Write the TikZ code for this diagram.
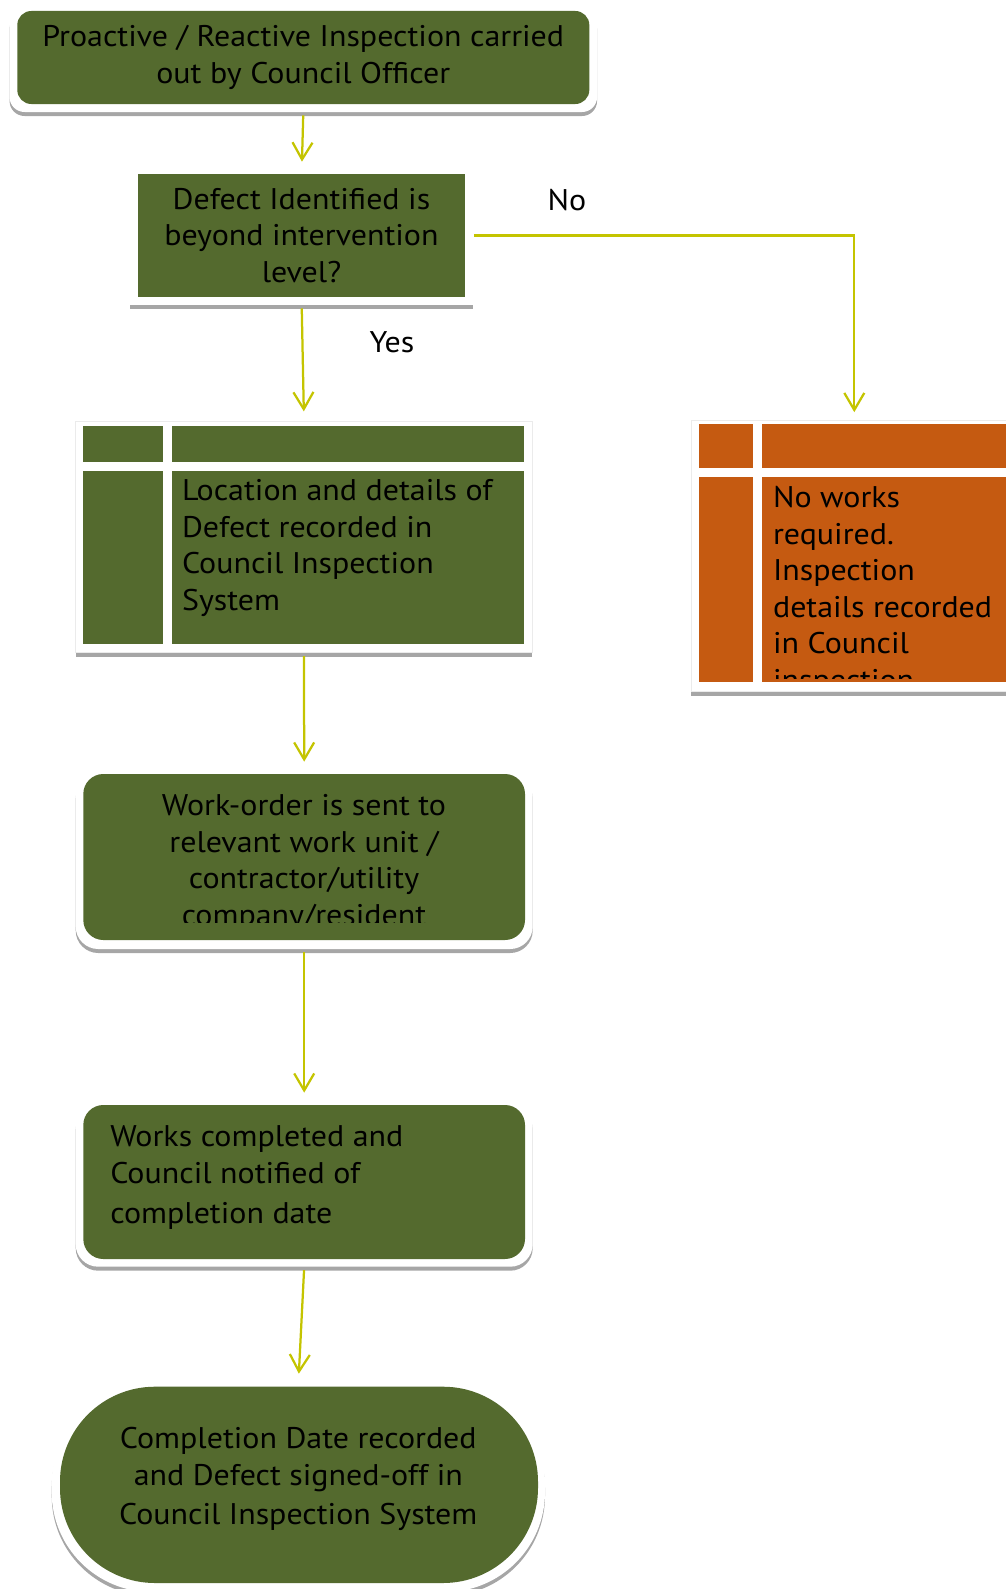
\documentclass[tikz,border=0pt]{standalone}
\usepackage{fontspec}
\setmainfont{PT Sans}[FakeStretch=1.07]
\usetikzlibrary{positioning,shadows,arrows.meta}
\definecolor{boxgreen}{RGB}{84,106,46}
\definecolor{boxorange}{RGB}{197,90,17}
\definecolor{linkyellow}{RGB}{196,196,0}
\definecolor{shadowgrey}{RGB}{166,166,166}
\tikzset{
  every node/.style={font=\fontsize{17}{20.8}\selectfont},
  boxframe/.style={rectangle,fill=white,inner sep=0pt,
    drop shadow={shadow xshift=0pt,shadow yshift=-0.08cm,fill=shadowgrey,opacity=1}},
  tableframe/.style={boxframe,draw=black!8,line width=0.4pt},
  greenbox/.style={rectangle,fill=boxgreen,inner sep=0pt,align=center},
  cell/.style={rectangle,fill=#1,inner sep=0pt},
  boxtext/.style={inner sep=0pt,align=left,anchor=north west},
  link/.style={draw=linkyellow,line width=0.045cm,-{Straight Barb[length=0.34cm,width=0.4cm]},
    shorten >=0.2cm,shorten <=0.06cm}
}
\begin{document}
\begin{tikzpicture}
    \useasboundingbox (0,0) rectangle (20.12,-31.78);
    \clip (0,0) rectangle (20.12,-31.78);

    % start
    \node at (6.066,-1.22) [boxframe,rounded corners=0.3cm,minimum width=11.75cm,minimum height=2.04cm] (inspect frame) {};
    \node at (6.066,-1.15) [greenbox,rounded corners=0.28cm,minimum width=11.44cm,minimum height=1.86cm,text depth=0.12cm] (inspect) {Proactive / Reactive Inspection carried\\out by Council Officer};

    % question
    \node at (6.034,-4.77) [boxframe,minimum width=6.87cm,minimum height=2.66cm] (decision frame) {};
    \node at (6.03,-4.71) [greenbox,minimum width=6.54cm,minimum height=2.46cm] (decision) {Defect Identified is\\beyond intervention\\level?};
    \node at (11.34,-4.214) [anchor=base] (no) {No};
    \node at (7.84,-7.054) [anchor=base] (yes) {Yes};

    % yes: record defect
    \node at (6.08,-10.744) [tableframe,minimum width=9.132cm,minimum height=4.62cm] (record frame) {};
    \node at (2.466,-8.883) [cell=boxgreen,minimum width=1.6cm,minimum height=0.726cm] (record tl) {};
    \node at (6.96,-8.883) [cell=boxgreen,minimum width=7.052cm,minimum height=0.726cm] (record tr) {};
    \node at (2.466,-11.153) [cell=boxgreen,minimum width=1.6cm,minimum height=3.466cm] (record bl) {};
    \node at (6.96,-11.153) [cell=boxgreen,minimum width=7.052cm,minimum height=3.466cm] (record br) {};
    \node at (3.634,-9.58) [boxtext] (record) {Location and details of\\Defect recorded in\\Council Inspection\\System};

    % no: nothing to do
    \node at (17.086,-11.117) [tableframe,minimum width=6.532cm,minimum height=5.434cm] (noworks frame) {};
    \node at (14.523,-8.926) [cell=boxorange,minimum width=1.086cm,minimum height=0.88cm] (noworks tl) {};
    \node at (17.717,-8.926) [cell=boxorange,minimum width=4.966cm,minimum height=0.88cm] (noworks tr) {};
    \node at (14.523,-11.584) [cell=boxorange,minimum width=1.086cm,minimum height=4.1cm] (noworks bl) {};
    \node at (17.717,-11.584) [cell=boxorange,minimum width=4.966cm,minimum height=4.1cm] (noworks br) {};
    \begin{scope}
        \clip (15.234,-9.534) rectangle (20.2,-13.56);
        \node at (15.454,-9.72) [boxtext] (noworks) {No works\\required.\\Inspection\\details recorded\\in Council\\inspection};
    \end{scope}

    % work order
    \node at (6.084,-17.21) [boxframe,rounded corners=0.45cm,minimum width=9.14cm,minimum height=3.54cm] (workorder frame) {};
    \node at (6.083,-17.14) [greenbox,rounded corners=0.4cm,minimum width=8.834cm,minimum height=3.32cm] (workorder box) {};
    \begin{scope}
        \clip (1.666,-15.48) rectangle (10.5,-18.454);
        \node at (6.08,-15.88) [boxtext,anchor=north,align=center] (workorder) {Work-order is sent to\\relevant work unit /\\contractor/utility\\company/resident};
    \end{scope}

    % works done
    \node at (6.084,-23.697) [boxframe,rounded corners=0.45cm,minimum width=9.14cm,minimum height=3.274cm] (completed frame) {};
    \node at (6.083,-23.64) [greenbox,rounded corners=0.4cm,minimum width=8.834cm,minimum height=3.08cm] (completed box) {};
    \node at (2.2,-22.514) [boxtext] (completed) {Works completed and\\Council notified of\\[0.07cm]completion date};

    % end
    \node at (5.967,-29.76) [boxframe,rounded corners=2cm,minimum width=9.866cm,minimum height=4.16cm] (signoff frame) {};
    \node at (5.98,-29.697) [greenbox,rounded corners=1.9cm,minimum width=9.56cm,minimum height=3.926cm] (signoff box) {};
    \node at (5.966,-28.54) [boxtext,anchor=north,align=center] (signoff) {Completion Date recorded\\and Defect signed-off in\\[0.05cm]Council Inspection System};

    \draw[link] (inspect frame.south) -- (decision frame.north);
    \draw[link] (decision frame.south) -- (record frame.north);
    \draw[link,shorten <=0pt,shorten >=0.15cm] (decision frame.east |- decision.east) -| (noworks frame.north);
    \draw[link] (record frame.south) -- (workorder frame.north);
    \draw[link] (workorder frame.south) -- (completed frame.north);
    \draw[link] (completed frame.south) -- (signoff frame.north);
\end{tikzpicture}
\end{document}
